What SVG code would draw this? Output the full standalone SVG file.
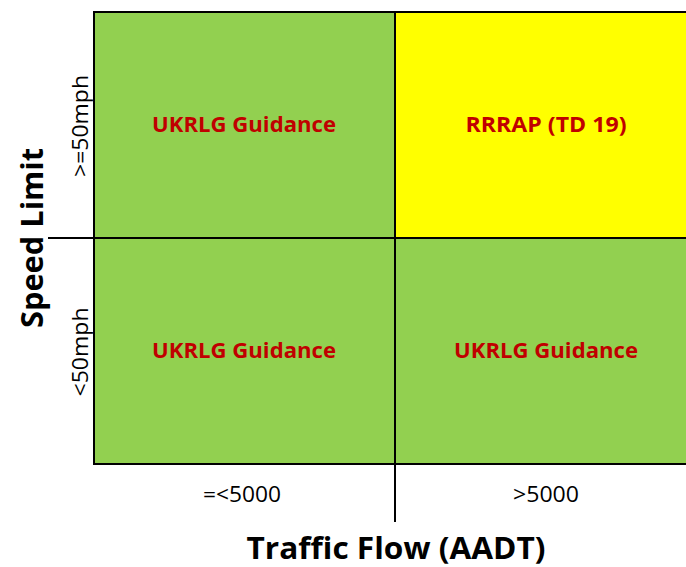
<svg xmlns="http://www.w3.org/2000/svg" width="686" height="567" viewBox="0 0 686 567">
<style>
.cell{stroke:none}
.g{fill:#92D050}
.y{fill:#FFFF00}
.lbl{font-family:"Open Sans","Liberation Sans",sans-serif;font-weight:bold;font-size:21.5px;fill:#C00000;text-anchor:middle}
.ax{font-family:"Open Sans","Liberation Sans",sans-serif;font-size:21px;fill:#000;text-anchor:middle}
.title{font-family:"Open Sans","Liberation Sans",sans-serif;font-weight:bold;font-size:31px;fill:#000;text-anchor:middle}
.ln{stroke:#000;stroke-width:2;fill:none}
</style>
<g id="cell-high-low">
<rect class="cell g" x="94" y="12" width="301" height="226"/>
<text class="lbl" x="244" y="132" textLength="184" lengthAdjust="spacingAndGlyphs">UKRLG Guidance</text>
</g>
<g id="cell-high-high">
<rect class="cell y" x="395" y="12" width="291" height="226"/>
<text class="lbl" x="546" y="132" textLength="161" lengthAdjust="spacingAndGlyphs">RRRAP (TD 19)</text>
</g>
<g id="cell-low-low">
<rect class="cell g" x="94" y="238" width="301" height="226"/>
<text class="lbl" x="244" y="358" textLength="184" lengthAdjust="spacingAndGlyphs">UKRLG Guidance</text>
</g>
<g id="cell-low-high">
<rect class="cell g" x="395" y="238" width="291" height="226"/>
<text class="lbl" x="546" y="358" textLength="184" lengthAdjust="spacingAndGlyphs">UKRLG Guidance</text>
</g>
<g id="connectors">
<line class="ln" x1="94" y1="12" x2="686" y2="12"/>
<line class="ln" x1="94" y1="11" x2="94" y2="465"/>
<line class="ln" x1="93" y1="464" x2="686" y2="464"/>
<line class="ln" x1="395" y1="12" x2="395" y2="522"/>
<line class="ln" x1="48" y1="238" x2="686" y2="238"/>
</g>
<g id="labels">
<text class="ax" transform="translate(88 126) rotate(-90)" textLength="102" lengthAdjust="spacingAndGlyphs">&gt;=50mph</text>
<text class="ax" transform="translate(88 352) rotate(-90)" textLength="89" lengthAdjust="spacingAndGlyphs">&lt;50mph</text>
<text class="ax" x="242" y="502" textLength="78" lengthAdjust="spacingAndGlyphs">=&lt;5000</text>
<text class="ax" x="546" y="502" textLength="66" lengthAdjust="spacingAndGlyphs">&gt;5000</text>
<text class="title" transform="translate(43 238) rotate(-90)" textLength="180" lengthAdjust="spacingAndGlyphs">Speed Limit</text>
<text class="title" x="396" y="559" textLength="299" lengthAdjust="spacingAndGlyphs">Traffic Flow (AADT)</text>
</g>
</svg>
